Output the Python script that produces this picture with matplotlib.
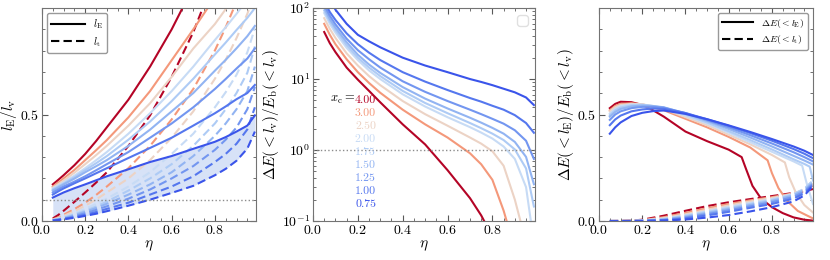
import numpy as np
import matplotlib
matplotlib.use("Agg")
import matplotlib.pyplot as plt
from matplotlib.lines import Line2D
from matplotlib.ticker import MultipleLocator

plt.rcParams['font.family'] = 'serif'
plt.rcParams['font.serif'] = ['cmr10']
plt.rcParams['mathtext.fontset'] = 'cm'
plt.rcParams['axes.formatter.use_mathtext'] = True

# ================= data ===================
xc_labels = ['4.00', '3.00', '2.50', '2.00', '1.75', '1.50', '1.25', '1.00', '0.75']
colors = ['#b40426', '#f4987a', '#ecd3c5', '#c7dbf5', '#aecbf5',
          '#92b4f2', '#7396f0', '#5577ee', '#3a54ea']

eta1 = [0.05, 0.075, 0.1, 0.15, 0.2, 0.25, 0.3, 0.4, 0.5, 0.6, 0.7, 0.8, 0.85, 0.9, 0.95, 0.985]

# panel 1: l_E / l_v (solid)
lE = [
    [.172, .193, .215, .262, .315, .375, .44, .57, .725, .90, 1.10, 1.34, 1.47, 1.62, 1.81, 1.91],
    [.162, .18, .20, .24, .286, .332, .38, .487, .61, .755, .90, 1.05, 1.18, 1.34, 1.48, 1.62],
    [.157, .173, .19, .227, .267, .309, .353, .448, .553, .677, .81, .925, .995, 1.07, 1.22, 1.30],
    [.153, .167, .181, .213, .248, .285, .324, .41, .506, .61, .725, .85, .91, .973, 1.04, 1.10],
    [.148, .162, .176, .206, .239, .271, .305, .382, .467, .563, .668, .782, .838, .897, .954, 1.0],
    [.143, .157, .172, .199, .229, .257, .286, .353, .429, .515, .601, .706, .757, .811, .868, .916],
    [.134, .148, .162, .185, .21, .238, .267, .324, .391, .458, .534, .62, .667, .716, .763, .811],
    [.124, .139, .153, .177, .20, .224, .248, .296, .343, .391, .448, .506, .538, .572, .601, .639],
    [.11, .122, .134, .154, .172, .191, .21, .243, .277, .305, .339, .372, .394, .42, .448, .496],
]
# panel 1: l_t / l_v (dashed)
lt = [
    [.012, .028, .048, .09, .134, .18, .229, .353, .496, .677, .887, 1.145, 1.28, 1.43, 1.62, 1.72],
    [.008, .017, .029, .056, .086, .122, .162, .248, .353, .477, .62, .801, .91, 1.03, 1.16, 1.26],
    [.006, .014, .024, .046, .072, .101, .134, .20, .286, .391, .515, .668, .757, .859, .973, 1.07],
    [.005, .011, .019, .036, .057, .08, .105, .162, .229, .315, .41, .534, .605, .687, .792, .906],
    [.004, .009, .016, .031, .048, .068, .091, .143, .20, .267, .353, .458, .525, .601, .696, .82],
    [.004, .008, .013, .027, .043, .061, .081, .124, .172, .229, .305, .40, .458, .525, .61, .725],
    [.003, .007, .011, .022, .036, .052, .069, .105, .148, .20, .258, .334, .382, .439, .525, .63],
    [.002, .005, .01, .018, .029, .042, .057, .086, .124, .162, .21, .277, .315, .363, .43, .534],
    [.002, .004, .008, .015, .024, .034, .046, .072, .10, .132, .165, .215, .245, .283, .34, .42],
]

# panel 2: dE(<l_v)/E_b(<l_v)
eta2 = [0.05, 0.075, 0.1, 0.15, 0.2, 0.25, 0.3, 0.4, 0.5, 0.6, 0.7, 0.75, 0.8, 0.85, 0.9, 0.95, 0.985]
dEv = [
    [46, 32, 24, 14.5, 9.8, 6.8, 4.7, 2.3, 1.2, 0.52, 0.21, 0.12, 0.06, 0.03, 0.015, 0.007, 0.004],
    [60, 42, 31, 19, 12.5, 8.8, 6.4, 3.7, 2.3, 1.5, 0.9, 0.63, 0.38, 0.14, 0.04, 0.015, 0.008],
    [72, 51, 38, 23, 15.5, 11, 8.2, 4.9, 3.2, 2.2, 1.5, 1.23, 0.96, 0.6, 0.2, 0.05, 0.02],
    [85, 60, 45, 27.5, 18.5, 13.2, 10, 6.1, 4.1, 2.9, 2.1, 1.76, 1.45, 1.12, 0.75, 0.3, 0.05],
    [92, 65, 49, 30, 20, 14.5, 11, 6.8, 4.6, 3.3, 2.4, 2.03, 1.7, 1.38, 1.02, 0.55, 0.16],
    [100, 70, 53, 33, 22, 16, 12.2, 7.7, 5.3, 3.85, 2.85, 2.43, 2.05, 1.7, 1.3, 0.8, 0.33],
    [110, 78, 59, 37, 25.5, 19, 14.5, 9.3, 6.6, 4.9, 3.7, 3.2, 2.75, 2.35, 1.9, 1.35, 0.75],
    [125, 88, 68, 44, 31, 23.5, 18.5, 12.5, 9.2, 7.0, 5.4, 4.8, 4.2, 3.7, 3.1, 2.4, 1.75],
    [210, 135, 95, 60, 42, 34, 28, 20, 15.5, 12.5, 10, 9.1, 8.2, 7.3, 6.5, 5.5, 4.3],
]

# panel 3: dE(<l_E)/E_b(<l_v) (solid), own eta per curve
eta3 = [0.05, 0.075, 0.1, 0.15, 0.2, 0.25, 0.3, 0.4, 0.5, 0.6, 0.7, 0.8, 0.9, 0.95, 0.99]
etaE3 = [
    [0.05, 0.075, 0.1, 0.15, 0.2, 0.25, 0.3, 0.4, 0.5, 0.6, 0.66, 0.68, 0.71, 0.75, 0.8, 0.85, 0.9, 0.95, 0.99],
    [0.05, 0.075, 0.1, 0.15, 0.2, 0.25, 0.3, 0.4, 0.5, 0.6, 0.7, 0.78, 0.8, 0.83, 0.87, 0.92, 0.99],
    [0.05, 0.075, 0.1, 0.15, 0.2, 0.25, 0.3, 0.4, 0.5, 0.6, 0.7, 0.8, 0.86, 0.88, 0.91, 0.95, 0.99],
    [0.05, 0.075, 0.1, 0.15, 0.2, 0.25, 0.3, 0.4, 0.5, 0.6, 0.7, 0.8, 0.9, 0.94, 0.96, 0.99],
    [0.05, 0.075, 0.1, 0.15, 0.2, 0.25, 0.3, 0.4, 0.5, 0.6, 0.7, 0.8, 0.9, 0.95, 0.975, 0.99],
    eta3, eta3, eta3, eta3,
]
dEE = [
    [0.53, 0.55, 0.56, 0.558, 0.545, 0.52, 0.49, 0.42, 0.375, 0.335, 0.30, 0.245, 0.165, 0.105, 0.065, 0.037, 0.017, 0.006, 0.002],
    [0.52, 0.54, 0.55, 0.553, 0.548, 0.535, 0.52, 0.48, 0.44, 0.395, 0.345, 0.285, 0.225, 0.155, 0.095, 0.047, 0.012],
    [0.515, 0.535, 0.545, 0.55, 0.548, 0.538, 0.525, 0.488, 0.45, 0.405, 0.36, 0.31, 0.275, 0.205, 0.135, 0.075, 0.04],
    [0.505, 0.527, 0.54, 0.547, 0.547, 0.54, 0.53, 0.495, 0.458, 0.415, 0.37, 0.325, 0.28, 0.26, 0.18, 0.08],
    [0.497, 0.52, 0.533, 0.543, 0.545, 0.54, 0.532, 0.50, 0.463, 0.422, 0.38, 0.336, 0.29, 0.268, 0.255, 0.19],
    [0.49, 0.512, 0.526, 0.538, 0.542, 0.54, 0.534, 0.505, 0.47, 0.432, 0.392, 0.35, 0.306, 0.284, 0.265],
    [0.475, 0.50, 0.515, 0.53, 0.536, 0.536, 0.532, 0.507, 0.474, 0.44, 0.403, 0.364, 0.323, 0.30, 0.28],
    [0.45, 0.477, 0.495, 0.515, 0.524, 0.528, 0.527, 0.507, 0.478, 0.447, 0.413, 0.377, 0.338, 0.316, 0.295],
    [0.41, 0.44, 0.463, 0.493, 0.508, 0.516, 0.519, 0.503, 0.478, 0.449, 0.418, 0.385, 0.35, 0.33, 0.31],
]
# panel 3: dE(<l_t)/E_b(<l_v) (dashed)
eta3t = [0.05, 0.1, 0.15, 0.2, 0.3, 0.4, 0.5, 0.6, 0.7, 0.8, 0.9, 0.95, 0.99]
dEt = [
    [0, 0.0005, 0.002, 0.006, 0.025, 0.048, 0.07, 0.088, 0.103, 0.117, 0.132, 0.14, 0.15],
    [0, 0.0003, 0.001, 0.004, 0.018, 0.038, 0.06, 0.08, 0.097, 0.112, 0.13, 0.145, 0.165],
    [0, 0.0002, 0.001, 0.003, 0.014, 0.032, 0.053, 0.073, 0.092, 0.108, 0.128, 0.148, 0.175],
    [0, 0.0001, 0.0007, 0.002, 0.011, 0.027, 0.046, 0.066, 0.085, 0.103, 0.127, 0.152, 0.19],
    [0, 0, 0.0005, 0.0016, 0.009, 0.024, 0.042, 0.061, 0.08, 0.099, 0.124, 0.15, 0.19],
    [0, 0, 0.0003, 0.0012, 0.007, 0.02, 0.037, 0.056, 0.075, 0.094, 0.12, 0.145, 0.18],
    [0, 0, 0.0002, 0.0008, 0.005, 0.016, 0.032, 0.05, 0.069, 0.088, 0.113, 0.138, 0.175],
    [0, 0, 0.0001, 0.0005, 0.003, 0.012, 0.026, 0.043, 0.062, 0.08, 0.105, 0.13, 0.17],
    [0, 0, 0, 0.0003, 0.002, 0.007, 0.016, 0.028, 0.045, 0.065, 0.092, 0.12, 0.165],
]

# ================= figure ===================
fig = plt.figure(figsize=(8.3, 2.6), dpi=100)
ax1 = fig.add_axes([0.0506, 0.15, 0.2578, 0.819])
ax2 = fig.add_axes([0.3771, 0.15, 0.2675, 0.819])
ax3 = fig.add_axes([0.7217, 0.15, 0.2578, 0.819])

lw = 1.5
dash = (0, (4, 2))

for ax in (ax1, ax2, ax3):
    ax.set_xlim(0, 0.99)
    ax.xaxis.set_major_locator(MultipleLocator(0.2))
    ax.xaxis.set_minor_locator(MultipleLocator(0.05))
    ax.set_xlabel(r'$\eta$', fontsize=11, labelpad=1)
    ax.tick_params(which='both', direction='in', top=True, right=True,
                   color='0.35', labelsize=10, pad=2)
    ax.tick_params(which='major', length=4)
    ax.tick_params(which='minor', length=2)
    for s in ax.spines.values():
        s.set_color('0.45')

# --- panel 1
for i in range(len(xc_labels)):
    ax1.plot(eta1, lE[i], color=colors[i], lw=lw)
    ax1.plot(eta1, lt[i], color=colors[i], lw=lw, ls=dash)
ax1.fill_between(eta1, lt[-1], lE[-1], color='#cddbf6', alpha=0.8, lw=0, zorder=0)
ax1.axhline(0.1, color='0.55', ls=':', lw=1)
ax1.set_ylim(0, 1)
ax1.set_yticks([0, 0.5])
ax1.yaxis.set_minor_locator(MultipleLocator(0.1))
ax1.set_ylabel(r'$l_{\rm E}/l_{\rm v}$', fontsize=11, labelpad=1)
h1 = [Line2D([], [], color='k', lw=lw), Line2D([], [], color='k', lw=lw, ls=dash)]
ax1.legend(h1, [r'$l_{\rm E}$', r'$l_{\rm t}$'], loc='upper left', fontsize=7.5,
           handlelength=3.2, labelspacing=0.35, edgecolor='0.6', framealpha=1)

# --- panel 2
for i in range(len(xc_labels)):
    ax2.plot(eta2, dEv[i], color=colors[i], lw=lw)
ax2.axhline(1, color='0.55', ls=':', lw=1)
ax2.set_yscale('log')
ax2.set_ylim(0.1, 100)
ax2.set_ylabel(r'$\Delta E(<l_{\rm v})/E_{\rm b}(<l_{\rm v})$', fontsize=11, labelpad=1)
ax2.legend(handles=[], loc='upper right', edgecolor='0.85')
ax2.text(0.19, 0.568, r'$x_{\rm c}=$', transform=ax2.transAxes, fontsize=9,
         ha='right', va='center')
for i, lab in enumerate(xc_labels):
    ax2.text(0.284, 0.568 - 0.061 * i, lab, transform=ax2.transAxes, fontsize=8.5,
             color=colors[i], ha='right', va='center')

# --- panel 3
for i in range(len(xc_labels)):
    ax3.plot(etaE3[i], dEE[i], color=colors[i], lw=lw)
    ax3.plot(eta3t, dEt[i], color=colors[i], lw=lw, ls=dash)
ax3.set_ylim(0, 1)
ax3.set_yticks([0, 0.5])
ax3.yaxis.set_minor_locator(MultipleLocator(0.1))
ax3.set_ylabel(r'$\Delta E(<l_{\rm E})/E_{\rm b}(<l_{\rm v})$', fontsize=11, labelpad=1)
ax3.legend(h1, [r'$\Delta E(<l_{\rm E})$', r'$\Delta E(<l_{\rm t})$'], loc='upper right',
           fontsize=7, handlelength=3.2, labelspacing=0.35, edgecolor='0.6', framealpha=1)

fig.savefig('out.png', dpi=100)
